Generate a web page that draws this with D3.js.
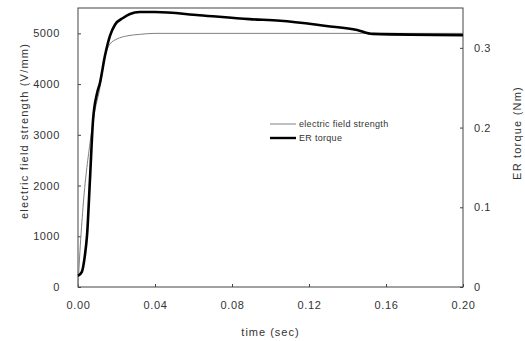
<!DOCTYPE html>
<html>
<head>
<meta charset="utf-8">
<script src="https://cdn.jsdelivr.net/npm/d3@7"></script>
<style>
    body { margin: 0; background: #fff; }
    svg text { font-family: "Liberation Sans", Arial, sans-serif; fill: #333; }
</style>
</head>
<body>
<div id="chart"></div>
<script>
// time axis for the field curve (sec) and field strength (V/mm)
var fieldTime = [0, 0.001, 0.0026, 0.0062, 0.0088, 0.0114, 0.0135, 0.0166, 0.0203, 0.0255, 0.032, 0.04, 0.08, 0.12, 0.16, 0.2];
var fieldValues = [0, 700, 1570, 2830, 3480, 3930, 4450, 4790, 4890, 4950, 4980, 5000, 5000, 5000, 5000, 5000];

// time axis for the torque curve (sec) and ER torque (Nm)
var torqueTime = [0, 0.002, 0.0036, 0.0047, 0.0062, 0.0078, 0.0099, 0.0114, 0.014, 0.0166, 0.0192, 0.0234, 0.027, 0.032, 0.04, 0.063, 0.089, 0.105, 0.129, 0.145, 0.153, 0.2];
var torqueValues = [0.014, 0.019, 0.040, 0.065, 0.134, 0.209, 0.243, 0.256, 0.290, 0.315, 0.329, 0.3375, 0.3425, 0.345, 0.345, 0.341, 0.336, 0.334, 0.3275, 0.3225, 0.3175, 0.316];

var xTicks = [0, 0.04, 0.08, 0.12, 0.16, 0.2];
var leftTicks = [0, 1000, 2000, 3000, 4000, 5000];
var rightTicks = [0, 0.1, 0.2, 0.3];
var legendNames = ["electric field strength", "ER torque"];

function drawChart() {
    var width = 525,
        height = 341,
        plotLeft = 78, plotRight = 463, plotTop = 8, plotBottom = 287;

    var x = d3.scaleLinear().domain([0, 0.2]).range([plotLeft, plotRight]);
    var yLeft = d3.scaleLinear().domain([0, 5500]).range([plotBottom, plotTop]);
    var yRight = d3.scaleLinear().domain([0, 0.35]).range([plotBottom, plotTop]);

    var svg = d3.select("#chart")
        .append("svg")
        .attr("width", width)
        .attr("height", height);

    // frame
    svg.append("rect")
        .attr("x", plotLeft).attr("y", plotTop)
        .attr("width", plotRight - plotLeft).attr("height", plotBottom - plotTop)
        .attr("fill", "none")
        .attr("stroke", "#444")
        .attr("stroke-width", 1);

    // axes, ticks pointing inward
    var xAxis = svg.append("g")
        .attr("transform", "translate(0," + plotBottom + ")")
        .call(d3.axisBottom(x).tickValues(xTicks).tickSize(-3).tickPadding(14)
            .tickFormat(d3.format(".2f")));

    var leftAxis = svg.append("g")
        .attr("transform", "translate(" + plotLeft + ",0)")
        .call(d3.axisLeft(yLeft).tickValues(leftTicks).tickSize(-3).tickPadding(18)
            .tickFormat(d3.format("d")));

    var rightAxis = svg.append("g")
        .attr("transform", "translate(" + plotRight + ",0)")
        .call(d3.axisRight(yRight).tickValues(rightTicks).tickSize(-3).tickPadding(11)
            .tickFormat(function (d) { return d === 0 ? "0" : d3.format(".1f")(d); }));

    [xAxis, leftAxis, rightAxis].forEach(function (a) {
        a.select(".domain").remove();
        a.selectAll(".tick line").attr("stroke", "#444");
        a.selectAll("text")
            .style("font-size", "11px")
            .style("letter-spacing", "0.6px")
            .attr("fill", "#333");
    });

    // curves
    var fieldLine = d3.line()
        .x(function (d, i) { return x(fieldTime[i]); })
        .y(function (d) { return yLeft(d); })
        .curve(d3.curveMonotoneX);

    var torqueLine = d3.line()
        .x(function (d, i) { return x(torqueTime[i]); })
        .y(function (d) { return yRight(d); })
        .curve(d3.curveMonotoneX);

    svg.append("path")
        .datum(fieldValues)
        .attr("d", fieldLine)
        .attr("fill", "none")
        .attr("stroke", "#808080")
        .attr("stroke-width", 1);

    svg.append("path")
        .datum(torqueValues)
        .attr("d", torqueLine)
        .attr("fill", "none")
        .attr("stroke", "#000")
        .attr("stroke-width", 2.6);

    // legend
    var legend = svg.append("g").attr("transform", "translate(270,124)");
    legendNames.forEach(function (name, i) {
        legend.append("line")
            .attr("x1", 0).attr("x2", 26)
            .attr("y1", i * 14).attr("y2", i * 14)
            .attr("stroke", i === 0 ? "#808080" : "#000")
            .attr("stroke-width", i === 0 ? 1 : 2.4);
        legend.append("text")
            .attr("x", 29).attr("y", i * 14 + 3)
            .style("font-size", "9px")
            .style("letter-spacing", "0.3px")
            .text(name);
    });

    // axis titles
    svg.append("text")
        .attr("x", (plotLeft + plotRight) / 2).attr("y", 336)
        .attr("text-anchor", "middle")
        .style("font-size", "11px")
        .style("letter-spacing", "1px")
        .text("time (sec)");

    svg.append("text")
        .attr("transform", "translate(28,131) rotate(-90)")
        .attr("text-anchor", "middle")
        .style("font-size", "11px")
        .style("letter-spacing", "1.2px")
        .text("electric field strength (V/mm)");

    svg.append("text")
        .attr("transform", "translate(521,133) rotate(-90)")
        .attr("text-anchor", "middle")
        .style("font-size", "11px")
        .style("letter-spacing", "1.2px")
        .text("ER torque (Nm)");
}

drawChart();
</script>
</body>
</html>
